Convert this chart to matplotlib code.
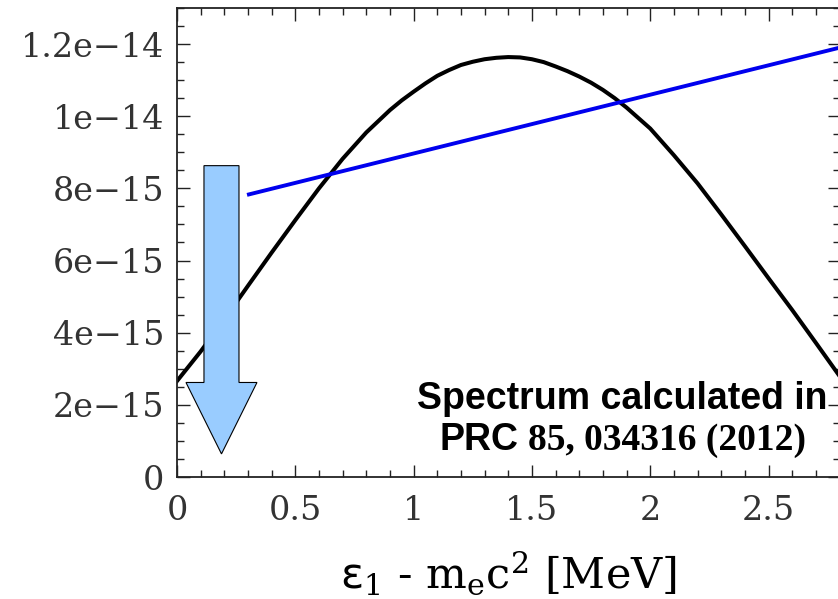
import numpy as np
import matplotlib.pyplot as plt
from matplotlib.ticker import MultipleLocator, FixedLocator, FixedFormatter
from matplotlib.patches import FancyArrow

plt.rcParams['mathtext.fontset'] = 'dejavuserif'

# Spectrum (x in MeV, y in units of 1e-15)
energy = np.array([0.0, 0.1, 0.2, 0.3, 0.4, 0.5, 0.6, 0.7, 0.8, 0.9,
                   0.95, 1.0, 1.05, 1.1, 1.15, 1.2, 1.25, 1.3, 1.35, 1.4,
                   1.45, 1.5, 1.55, 1.6, 1.65, 1.7, 1.75, 1.8, 1.85, 1.9,
                   2.0, 2.1, 2.2, 2.3, 2.4, 2.5, 2.6, 2.7, 2.8])
spectrum = np.array([2.66, 3.48, 4.37, 5.30, 6.22, 7.12, 8.00, 8.82, 9.55, 10.17,
                     10.44, 10.68, 10.91, 11.12, 11.28, 11.42, 11.51, 11.58, 11.62, 11.64,
                     11.63, 11.58, 11.50, 11.38, 11.25, 11.10, 10.93, 10.73, 10.50, 10.24,
                     9.66, 8.92, 8.14, 7.28, 6.40, 5.51, 4.63, 3.72, 2.80]) * 1e-15

# Straight blue line
line_x = [0.296, 2.8]
line_y = [7.82e-15, 11.9e-15]

# Arrow geometry (data units)
arrow_x = 0.188
arrow_top = 8.63e-15
arrow_tip = 0.64e-15
shaft_width = 0.148
head_width = 0.30
head_length = 1.98e-15

ytick_vals = [0, 2e-15, 4e-15, 6e-15, 8e-15, 1e-14, 1.2e-14]
ytick_labels = ['0', '2e\u221215', '4e\u221215', '6e\u221215', '8e\u221215',
                '1e\u221214', '1.2e\u221214']
xtick_vals = [0, 0.5, 1, 1.5, 2, 2.5]
xtick_labels = ['0', '0.5', '1', '1.5', '2', '2.5']

fig = plt.figure(figsize=(8.38, 5.99), dpi=100)
ax = fig.add_axes([177 / 838, 122 / 599, 662.5 / 838, 469 / 599])

ax.plot(energy, spectrum, color='black', lw=2.9, zorder=2, solid_joinstyle='round')
ax.plot(line_x, line_y, color='#0000ee', lw=2.8, zorder=2, solid_capstyle='butt')

arrow = FancyArrow(arrow_x, arrow_top, 0, arrow_tip - arrow_top, width=shaft_width,
                   head_width=head_width, head_length=head_length,
                   length_includes_head=True, facecolor='#99ccff',
                   edgecolor='black', lw=0.8, zorder=3)
ax.add_patch(arrow)

ax.set_xlim(0, 2.8)
ax.set_ylim(0, 1.3e-14)

ax.xaxis.set_major_locator(FixedLocator(xtick_vals))
ax.xaxis.set_major_formatter(FixedFormatter(xtick_labels))
ax.xaxis.set_minor_locator(MultipleLocator(0.1))
ax.yaxis.set_major_locator(FixedLocator(ytick_vals))
ax.yaxis.set_major_formatter(FixedFormatter(ytick_labels))
ax.yaxis.set_minor_locator(MultipleLocator(5e-16))

ax.tick_params(which='both', direction='in', top=True, right=True,
               color='#222222', width=1.0)
ax.tick_params(which='major', length=9)
ax.tick_params(which='minor', length=5)
ax.tick_params(axis='x', which='major', pad=13)
ax.tick_params(axis='y', which='major', pad=9)
for lab in ax.get_xticklabels() + ax.get_yticklabels():
    lab.set_family('DejaVu Serif')
    lab.set_fontsize(24)
    lab.set_color('#333333')
for sp in ax.spines.values():
    sp.set_linewidth(1.3)
    sp.set_color('#222222')

ax.set_xlabel(r'$\mathsf{ε}_1$ - m$_\mathrm{e}$c$^2$ [MeV]',
              family='DejaVu Serif', fontsize=31, labelpad=16)

# Annotation text
fig.text(622 / 838, 1 - 409 / 599, 'Spectrum calculated in', ha='center',
         va='baseline', family='Liberation Sans', weight='bold', fontsize=27)
fig.text(518 / 838, 1 - 450 / 599, 'PRC', ha='right', va='baseline',
         family='Liberation Sans', weight='bold', fontsize=27)
fig.text(528 / 838, 1 - 450 / 599, '85, 034316 (2012)', ha='left', va='baseline',
         family='Liberation Serif', weight='bold', fontsize=27)

fig.savefig('out.png', dpi=100)
